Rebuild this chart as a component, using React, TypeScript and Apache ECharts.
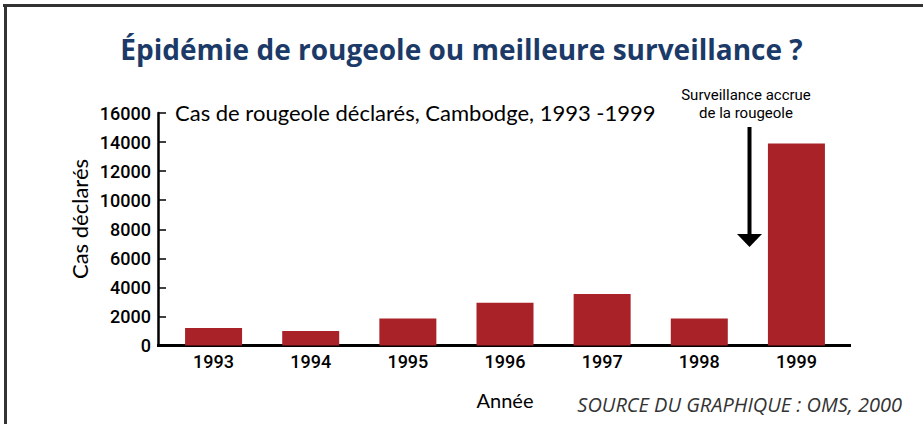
import React, { useEffect, useRef } from "react";
import * as echarts from "echarts";

const years = ["1993", "1994", "1995", "1996", "1997", "1998", "1999"];
const cases = [1200, 1000, 1850, 2950, 3550, 1850, 13900];
const yMin = 0;
const yMax = 16000;
const yInterval = 2000;

const titleText = "Épidémie de rougeole ou meilleure surveillance ?";
const subtitleText = "Cas de rougeole déclarés, Cambodge, 1993 -1999";
const yAxisTitle = "Cas déclarés";
const xAxisTitle = "Année";
const sourceText = "SOURCE DU GRAPHIQUE : OMS, 2000";
const annotationText = "Surveillance accrue\nde la rougeole";

const narrow = 'Roboto, "DejaVu Sans", sans-serif';
const humanist = 'Lato, "Noto Sans", sans-serif';

export default function App() {
  const ref = useRef<HTMLDivElement>(null);
  useEffect(() => {
    if (!ref.current) return;
    const chart = echarts.init(ref.current, null, { renderer: "svg" });
    chart.setOption({
      animation: false,
      backgroundColor: "#ffffff",
      title: {
        text: titleText,
        left: "center",
        top: 30,
        textStyle: {
          fontFamily: '"Open Sans", Lato, sans-serif',
          fontWeight: "bold",
          fontSize: 28,
          color: "#1b3a68",
        },
      },
      grid: { left: 165, top: 113, width: 680, height: 232.5, containLabel: false },
      xAxis: {
        type: "category",
        data: years,
        axisLine: { show: true, lineStyle: { color: "#000", width: 3 } },
        axisTick: { show: false },
        axisLabel: {
          margin: 7,
          color: "#000",
          fontFamily: narrow,
          fontWeight: 500,
          fontSize: 18,
        },
      },
      yAxis: {
        type: "value",
        min: yMin,
        max: yMax,
        interval: yInterval,
        offset: 7,
        splitLine: { show: false },
        axisLine: { show: true, lineStyle: { color: "#000", width: 2.5 } },
        axisTick: { show: true, inside: true, length: 8, lineStyle: { color: "#000", width: 1.5 } },
        axisLabel: {
          margin: 7,
          color: "#000",
          fontFamily: narrow,
          fontWeight: 500,
          fontSize: 18,
          formatter: (v: number) => String(v),
        },
      },
      series: [
        {
          type: "bar",
          data: cases,
          barWidth: 57,
          itemStyle: { color: "#a82228" },
        },
      ],
      graphic: [
        { type: "line", shape: { x1: 3, y1: 5.5, x2: 923, y2: 5.5 }, style: { stroke: "#333", lineWidth: 3 } },
        { type: "line", shape: { x1: 5.5, y1: 4, x2: 5.5, y2: 424 }, style: { stroke: "#333", lineWidth: 3 } },
        { type: "line", shape: { x1: 157, y1: 345.5, x2: 851, y2: 345.5 }, style: { stroke: "#000", lineWidth: 3 } },
        {
          type: "text",
          x: 175,
          y: 112,
          style: { text: subtitleText, fontFamily: humanist, fontSize: 22, fill: "#000", verticalAlign: "middle", align: "left" },
        },
        {
          type: "text",
          x: 79,
          y: 219,
          rotation: Math.PI / 2,
          style: { text: yAxisTitle, fontFamily: humanist, fontSize: 22, fill: "#000", verticalAlign: "middle", align: "center" },
        },
        {
          type: "text",
          x: 505,
          y: 400,
          style: { text: xAxisTitle, fontFamily: humanist, fontSize: 20, fill: "#000", verticalAlign: "middle", align: "center" },
        },
        {
          type: "text",
          x: 902,
          y: 404,
          style: { text: sourceText, fontFamily: '"Open Sans", sans-serif', fontStyle: "italic", fontSize: 20, fill: "#333", verticalAlign: "middle", align: "right" },
        },
        {
          type: "text",
          x: 746,
          y: 104,
          style: { text: annotationText, fontFamily: narrow, fontSize: 15, lineHeight: 18, fill: "#000", verticalAlign: "middle", align: "center" },
        },
        { type: "line", shape: { x1: 749.5, y1: 127, x2: 749.5, y2: 236 }, style: { stroke: "#000", lineWidth: 4 } },
        { type: "polygon", shape: { points: [[737, 234], [762, 234], [749.5, 247]] }, style: { fill: "#000" } },
      ],
    });
    return () => chart.dispose();
  }, []);
  return <div ref={ref} style={{ position: "fixed", left: 0, top: 0, width: 923, height: 424 }} />;
}
